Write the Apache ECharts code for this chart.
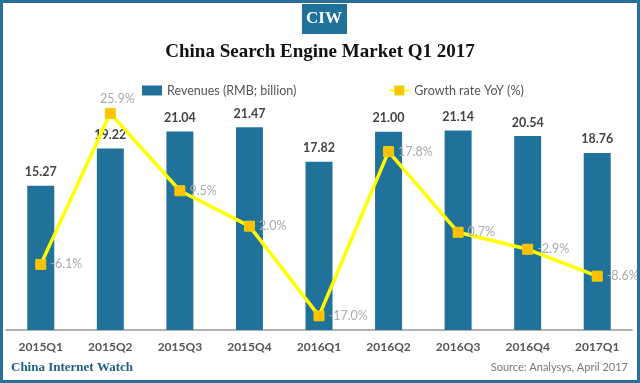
<!DOCTYPE html>
<html><head><meta charset="utf-8">
<script src="https://cdn.jsdelivr.net/npm/echarts@6/dist/echarts.min.js"></script>
<style>html,body{margin:0;padding:0;background:#fff}#c{width:640px;height:383px}</style>
</head><body><div id="c"></div>
<script>
const categories = ['2015Q1','2015Q2','2015Q3','2015Q4','2016Q1','2016Q2','2016Q3','2016Q4','2017Q1'];
const revenues = [15.27, 19.22, 21.04, 21.47, 17.82, 21.00, 21.14, 20.54, 18.76];
const growth = [-6.1, 25.9, 9.5, 2.0, -17.0, 17.8, 0.7, -2.9, -8.6];

const chart = echarts.init(document.getElementById('c'));
const blue = '#21729a';
const growthData = growth.map((v, i) => i === 1
  ? {value: v, label: {position: 'top', offset: [7, 2]}}
  : v);
chart.setOption({
  animation: false,
  backgroundColor: '#fff',
  title: {
    text: 'China Search Engine Market Q1 2017',
    left: 'center', top: 38,
    textStyle: {fontFamily: 'Liberation Serif', fontWeight: 'bold', fontSize: 19, color: '#111'}
  },
  legend: {
    top: 79, left: 137, itemGap: 92, itemWidth: 20, itemHeight: 10,
    textStyle: {fontFamily: 'Lato', fontSize: 12.5, color: '#555'},
    data: [{name: 'Revenues (RMB; billion)', icon: 'rect'}, {name: 'Growth rate YoY (%)'}]
  },
  grid: {left: 6, right: 8, top: 94, bottom: 53, containLabel: false},
  xAxis: {
    type: 'category', data: categories,
    axisLine: {lineStyle: {color: '#999', width: 1.5}},
    axisTick: {show: false},
    axisLabel: {fontFamily: 'Lato', fontWeight: 'bold', fontSize: 12, color: '#555', margin: 11}
  },
  yAxis: [
    {type: 'value', min: 0, max: 25, show: false, splitLine: {show: false}},
    {type: 'value', min: -20, max: 30, show: false, splitLine: {show: false}}
  ],
  series: [
    {
      name: 'Revenues (RMB; billion)', type: 'bar', data: revenues, barWidth: 27,
      itemStyle: {color: blue},
      label: {show: true, position: 'top', distance: 7, formatter: p => p.value.toFixed(2),
        fontFamily: 'Lato', fontWeight: 'bold', fontSize: 12.5, color: '#444'}
    },
    {
      name: 'Growth rate YoY (%)', type: 'line', yAxisIndex: 1, data: growthData,
      symbol: 'rect', symbolSize: 10,
      lineStyle: {color: '#ffff00', width: 3.5},
      itemStyle: {color: '#ffc000', borderColor: '#e8d000', borderWidth: 1},
      label: {show: true, position: 'right', distance: 4, formatter: p => p.value.toFixed(1) + '%',
        fontFamily: 'Lato', fontSize: 12.5, color: '#aaa'}
    }
  ],
  graphic: [
    {type: 'rect', shape: {x: 1.5, y: 1.5, width: 637, height: 380}, style: {fill: 'none', stroke: '#2a6f97', lineWidth: 3}, z: 100},
    {type: 'rect', shape: {x: 302, y: 4, width: 45, height: 30}, style: {fill: blue}, z: 100},
    {type: 'text', left: 306, top: 10, style: {text: 'CIW', fill: '#fff', font: 'bold 17px "Liberation Serif"'}, z: 101},
    {type: 'text', left: 11, top: 361, style: {text: 'China Internet Watch', fill: '#1f5f80', font: 'bold 13px "Liberation Serif"'}, z: 100},
    {type: 'text', right: 12, top: 362, style: {text: 'Source: Analysys, April 2017', fill: '#777', font: '11px Lato'}, z: 100}
  ]
});
</script></body></html>
